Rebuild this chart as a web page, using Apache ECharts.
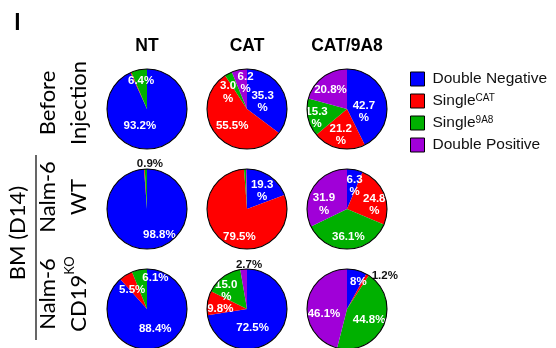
<!DOCTYPE html>
<html>
<head>
<meta charset="utf-8">
<script src="https://cdn.jsdelivr.net/npm/echarts@6/dist/echarts.min.js"></script>
<style>
  html, body { margin: 0; padding: 0; background: #fff; }
  #chart { width: 556px; height: 348px; }
</style>
</head>
<body>
<div id="chart"></div>
<script>
// Population categories (legend order = slice order, clockwise from 12 o'clock)
const categoryNames = ['Double Negative', 'Single CAT', 'Single 9A8', 'Double Positive'];
const categoryBase = ['Double Negative', 'Single', 'Single', 'Double Positive'];
const categorySup = ['', 'CAT', '9A8', ''];
const categoryColors = ['#0000ff', '#ff0000', '#00b000', '#a000d8'];

// Column / row headings
const columnTitles = ['NT', 'CAT', 'CAT/9A8'];
const rowTitles = ['Before\nInjection', 'Nalm-6\nWT', 'Nalm-6\nCD19{sup|KO}'];
const groupTitle = 'BM (D14)';
const panelLetter = 'I';

// Percentages per condition (Double Negative, Single CAT, Single 9A8, Double Positive)
const ntBefore   = ['93.2', '0.4', '6.4', '0'];
const catBefore  = ['35.3', '55.5', '3.0', '6.2'];
const dualBefore = ['42.7', '21.2', '15.3', '20.8'];
const ntWT       = ['98.8', '0.3', '0.9', '0'];
const catWT      = ['19.3', '79.5', '0.8', '0.4'];
const dualWT     = ['6.3', '24.8', '36.1', '31.9'];
const ntKO       = ['88.4', '5.5', '6.1', '0'];
const catKO      = ['72.5', '9.8', '15.0', '2.7'];
const dualKO     = ['8', '1.2', '44.8', '46.1'];

const pieValues = [
  [ntBefore, catBefore, dualBefore],
  [ntWT, catWT, dualWT],
  [ntKO, catKO, dualKO]
];

// Label style per slice: 'in' = one line inside, 'wrap' = value and % on two lines,
// 'out' = dark text just outside the rim, '' = no label
const labelKinds = [
  [['in', '', 'in', ''], ['wrap', 'in', 'wrap', 'wrap'], ['wrap', 'wrap', 'wrap', 'in']],
  [['in', '', 'out', ''], ['wrap', 'in', '', ''], ['wrap', 'wrap', 'in', 'wrap']],
  [['in', 'in', 'in', ''], ['in', 'in', 'wrap', 'out'], ['in', 'out', 'in', 'in']]
];

// Small label nudges (px) away from the default inside position
const labelNudges = [
  [[[-12, -5.5], null, [-1.3, -5.4], null],
   [[-5, 3], [2, 1], [-8.2, 3.7], [3, -3.4]],
   [[-5.5, 8], [-1.5, 3.4], [-8, 3.7], [-2.5, -1.4]]],
  [[[11.5, 3.3], null, [3.6, -21.7], null],
   [[2, 0.9], [4.8, 8.1], null, null],
   [[3, -0.4], [6, 4.5], [0.8, 5], [-3.5, 7.6]]],
  [[[0, -1.4], [-2.7, 0.3], [12.8, -8.7], null],
   [[-11.9, 3.7], [-4, 3.3], [-7, 0.5], [4, -21.1]],
   [[5.7, -4.9], [26, -13.8], [1, 2], [-0.2, 7.2]]]
];

// Grid geometry
const colX = [147, 247, 347];
const rowY = [109, 209, 309];
const pieRadius = 40;

const series = [];
pieValues.forEach((row, r) => {
  row.forEach((vals, c) => {
    const kinds = labelKinds[r][c];
    const nudges = labelNudges[r][c];
    series.push({
      type: 'pie',
      name: columnTitles[c] + ' ' + r,
      center: [colX[c], rowY[r]],
      radius: [0, pieRadius],
      startAngle: 90,
      clockwise: true,
      avoidLabelOverlap: false,
      animation: false,
      emphasis: { disabled: true },
      itemStyle: { borderWidth: 0 },
      labelLine: { show: false },
      data: vals.map((v, i) => {
        const kind = kinds[i];
        return {
          name: categoryNames[i],
          value: Number(v),
          itemStyle: { color: categoryColors[i] },
          label: {
            show: kind !== '',
            position: 'inside',
            formatter: kind === 'wrap' ? v + '\n%' : v + '%',
            color: kind === 'out' ? '#111' : '#fff',
            fontFamily: 'Liberation Sans, Arial, sans-serif',
            fontWeight: 'bold',
            fontSize: 11.5,
            lineHeight: 12.5
          }
        };
      }),
      labelLayout: function (p) {
        const n = nudges[p.dataIndex];
        return n ? { dx: n[0], dy: n[1] } : {};
      }
    });
    // Black rim around each pie
    series.push({
      type: 'pie',
      silent: true,
      animation: false,
      center: [colX[c], rowY[r]],
      radius: [0, pieRadius],
      z: 5,
      label: { show: false },
      labelLine: { show: false },
      emphasis: { disabled: true },
      tooltip: { show: false },
      itemStyle: { color: 'rgba(0,0,0,0)', borderColor: '#000', borderWidth: 1.1 },
      data: [{ name: '', value: 1 }]
    });
  });
});

const sideFont = 'Lato, "Open Sans", sans-serif';
const graphics = [
  {
    type: 'text', left: 14, top: 11,
    style: { text: panelLetter, font: 'bold 23px ' + sideFont, fill: '#000' }
  }
];
columnTitles.forEach((t, c) => {
  graphics.push({
    type: 'text', x: colX[c], y: 46,
    style: {
      text: t, fill: '#000', align: 'center', verticalAlign: 'middle',
      font: 'bold 17.5px "Liberation Sans", Arial, sans-serif'
    }
  });
});
const rowCenters = [103, 197, 294];
rowTitles.forEach((t, r) => {
  graphics.push({
    type: 'text', x: 63, y: rowCenters[r], rotation: Math.PI / 2,
    style: {
      text: t, fill: '#000', align: 'center', verticalAlign: 'middle',
      font: '22px ' + sideFont, lineHeight: 31,
      rich: { sup: { fontSize: 13, fontFamily: 'Lato, sans-serif', verticalAlign: 'top', lineHeight: 31, padding: [0, 0, 11, 0] } }
    }
  });
});
graphics.push({
  type: 'text', x: 18, y: 233, rotation: Math.PI / 2,
  style: {
    text: groupTitle, fill: '#000', align: 'center', verticalAlign: 'middle',
    font: '22px ' + sideFont
  }
});
graphics.push({
  type: 'line', shape: { x1: 36, y1: 155, x2: 36, y2: 340 },
  style: { stroke: '#000', lineWidth: 1.2 }
});

const option = {
  backgroundColor: '#fff',
  animation: false,
  legend: {
    orient: 'vertical',
    left: 405,
    top: 66,
    itemWidth: 14,
    itemHeight: 14,
    itemGap: 6,
    icon: 'rect',
    selectedMode: false,
    data: categoryNames,
    itemStyle: { borderColor: '#000', borderWidth: 1 },
    textStyle: {
      fontFamily: 'Liberation Sans, Arial, sans-serif',
      fontSize: 15.5,
      color: '#111',
      padding: [0, 0, 0, 3],
      rich: {
        b: { fontSize: 15.5, fontFamily: 'Liberation Sans, Arial, sans-serif', color: '#111', verticalAlign: 'bottom', lineHeight: 16 },
        sup: { fontSize: 10, fontFamily: 'Liberation Sans, Arial, sans-serif', color: '#111', verticalAlign: 'top', lineHeight: 10, padding: [0, 0, 6, 0] }
      }
    },
    formatter: function (name) {
      const i = categoryNames.indexOf(name);
      return categorySup[i] ? '{b|' + categoryBase[i] + '}{sup|' + categorySup[i] + '}' : '{b|' + categoryBase[i] + '}';
    }
  },
  graphic: graphics,
  series: series
};

const chart = echarts.init(document.getElementById('chart'), null, { renderer: 'canvas' });
chart.setOption(option);
</script>
</body>
</html>
